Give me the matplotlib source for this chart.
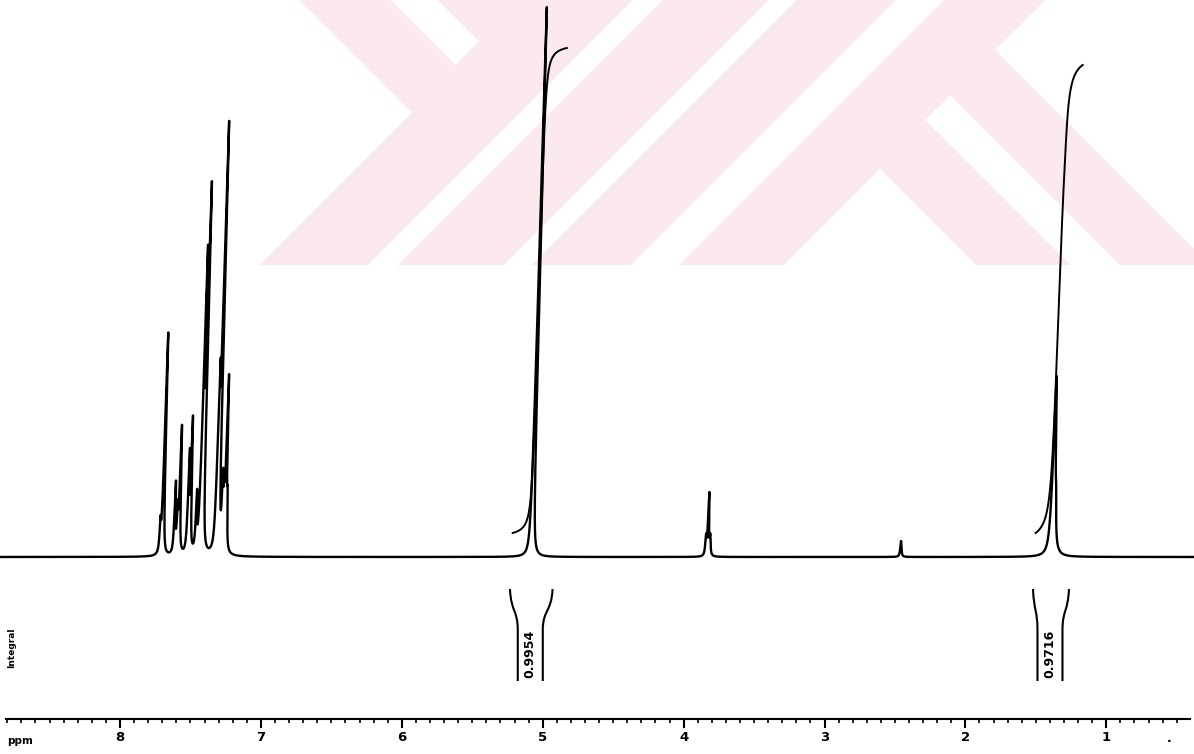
import numpy as np
import matplotlib
matplotlib.use("Agg")
import matplotlib.pyplot as plt
from matplotlib.transforms import Affine2D
from matplotlib.path import Path
from matplotlib.patches import PathPatch

# ---------------- data ----------------
# peak list: chemical shift (ppm), height (arbitrary units), half width (ppm)
peak_ppm = [7.720, 7.702, 7.618, 7.600, 7.586, 7.525, 7.510, 7.466, 7.437, 7.422,
            7.325, 7.312, 7.285, 7.275, 7.262, 7.250,
            5.080, 3.845, 3.830, 3.815, 2.460, 1.388, 1.370]
peak_height = [28, 222, 70, 40, 125, 95, 130, 55, 280, 350,
               150, 415, 60, 50, 165, 45,
               550, 18, 62, 18, 16, 178, 30]
peak_hwhm = [0.0045] * 16 + [0.0045, 0.0045, 0.0045, 0.0045, 0.005, 0.010, 0.006]

# integrated regions
int_start = [5.218, 1.506]
int_end = [4.930, 1.265]
int_low = [24, 24]
int_high = [509, 492]
int_label = ["0.9954", "0.9716"]

major_ticks = [1, 2, 3, 4, 5, 6, 7, 8]

# ---------------- geometry ----------------
W, H = 1194, 754
PX_PER_PPM = 140.9
BASE_PX = 557


def x2ppm(x):
    return 8 - (x - 120) / PX_PER_PPM


def py2d(py):
    return BASE_PX - py


fig = plt.figure(figsize=(W / 100, H / 100), dpi=100)
fig.patch.set_facecolor("white")

# watermark background
bg = fig.add_axes([0, 0, 1, 1], zorder=0)
yy, xx = np.mgrid[0:H, 0:W] + 0.5
u = xx + yy
v = xx - yy
pink = (yy <= 265)
pink &= ~((u < 525) & (v < 300))
pink &= ~((u > 1045) & (v > 945))
pink &= ~((u > 1048) & (v < 712))
pink &= ~(((u > 632) & (u < 663)) | ((u > 768) & (u < 797)) | ((u > 895) & (u < 945)))
pink &= ~((u < 521) & (v > 390) & (v < 438))
pink &= ~((u > 1045) & (v > 805) & (v < 855))
img = np.ones((H, W, 3))
img[pink] = np.array([252, 233, 237]) / 255.0
bg.imshow(img, extent=(0, W, H, 0), aspect="auto", interpolation="nearest")
bg.axis("off")

ax = fig.add_axes([0, 0, 1, 1], zorder=1)
ax.set_facecolor("none")
ax.set_xlim(x2ppm(0), x2ppm(W))
ax.set_ylim(py2d(H), py2d(0))

# pen-recorder skew about the baseline
k = 0.028
base_disp = H - BASE_PX
skew = Affine2D().translate(0, -base_disp).skew(np.arctan(k), 0).translate(0, base_disp)
tr = ax.transData + skew

# spectrum
x = np.linspace(8.85, 0.38, 60000)
spec = np.zeros_like(x)
for p, h, g in zip(peak_ppm, peak_height, peak_hwhm):
    spec += h / (1 + ((x - p) / g) ** 2)
ax.plot(x, spec, color="black", lw=1.7, transform=tr, solid_joinstyle="round")

# integrals
for s, e, lo, hi, lab in zip(int_start, int_end, int_low, int_high, int_label):
    m = (x <= s) & (x >= e)
    xs = x[m]
    c = np.cumsum(spec[m])
    c = (c - c[0]) / (c[-1] - c[0])
    ax.plot(xs, lo + (hi - lo) * c, color="black", lw=1.4, transform=tr)

    # bracket under the integral
    xl_px = 120 + (8 - s) * PX_PER_PPM
    xr_px = 120 + (8 - e) * PX_PER_PPM
    xc_px = (xl_px + xr_px) / 2 - 2
    for xt, xi in ((xl_px - 2, xc_px - 12.5), (xr_px, xc_px + 12.5)):
        d = 1 if xi > xt else -1
        verts = [(xt, 589), (xt + d * 1, 612), (xi, 610), (xi, 630), (xi, 681)]
        codes = [Path.MOVETO, Path.CURVE4, Path.CURVE4, Path.CURVE4, Path.LINETO]
        verts_d = [(x2ppm(a), py2d(b)) for a, b in verts]
        ax.add_patch(PathPatch(Path(verts_d, codes), fill=False, lw=1.5, edgecolor="black"))
    ax.text(x2ppm(xc_px), py2d(654), lab, rotation=90, ha="center", va="center",
            fontsize=9, fontweight="bold")

ax.text(x2ppm(12), py2d(648), "Integral", rotation=90, ha="center", va="center",
        fontsize=6.5, fontweight="bold")

# ppm ruler
for sp in ("top", "left", "right"):
    ax.spines[sp].set_visible(False)
ax.spines["bottom"].set_position(("data", py2d(719)))
ax.spines["bottom"].set_bounds(x2ppm(6), x2ppm(1190))
ax.spines["bottom"].set_linewidth(1.5)
ax.set_yticks([])
ax.set_xticks(major_ticks)
ax.set_xticklabels([str(t) for t in major_ticks])
ax.set_xticks(np.round(np.arange(0.5, 8.81, 0.1), 2), minor=True)
ax.tick_params(axis="x", which="major", direction="out", length=6.5, width=1.5,
               labelsize=9.5, pad=2)
ax.tick_params(axis="x", which="minor", direction="out", length=3, width=1.2)
for t in ax.get_xticklabels():
    t.set_fontweight("bold")
ax.text(x2ppm(7), py2d(741), "ppm", ha="left", va="center", fontsize=7.5, fontweight="bold")
ax.text(x2ppm(1169), py2d(738), ".", ha="center", va="center", fontsize=9, fontweight="bold")

fig.savefig("out.png", dpi=100, facecolor="white")
